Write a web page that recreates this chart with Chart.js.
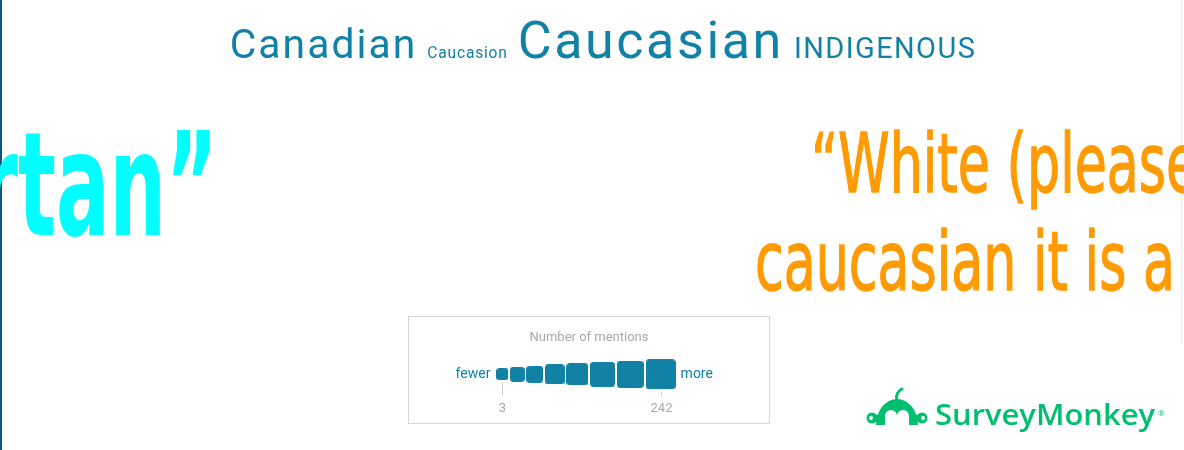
<!DOCTYPE html>
<html>
<head>
<meta charset="utf-8">
<script src="https://cdn.jsdelivr.net/npm/chart.js@4.4.0/dist/chart.umd.min.js"></script>
<style>
html, body { margin: 0; padding: 0; background: #fff; }
body { width: 1184px; height: 450px; position: relative; overflow: hidden; }
#left-bar { position: absolute; left: 0; top: 0; width: 2px; height: 450px; background: #0b5580; }
#right-line { position: absolute; left: 1181px; top: 0; width: 1px; height: 343px; background: #ececec; }
#cloud { position: absolute; left: 0; top: 0; }
#legend-box { position: absolute; left: 408px; top: 316px; width: 360px; height: 106px; border: 1px solid #d6d6d6; }
#legend { position: absolute; left: 0; top: 0; }
#overlay { position: absolute; left: 0; top: 0; }
</style>
</head>
<body>
<div id="left-bar"></div>
<div id="right-line"></div>
<canvas id="cloud" width="1184" height="116"></canvas>
<div id="legend-box"><canvas id="legend" width="360" height="106"></canvas></div>

<svg id="overlay" width="1184" height="450">
  <g id="cyan-quote" fill="#00ffff" font-family="'Liberation Sans Narrow', 'DejaVu Sans Condensed', 'DejaVu Sans', sans-serif" font-weight="bold" font-size="144">
    <text id="cyan-text" x="0" y="0">rtan”</text>
  </g>
  <g id="orange-1" fill="#ff9a00" stroke="#ff9a00" stroke-width="1.3" font-family="'Liberation Sans Narrow', 'DejaVu Sans Condensed', 'DejaVu Sans', sans-serif" font-size="82">
    <text id="orange-text-1" x="0" y="0">“White (please</text>
  </g>
  <g id="orange-2" fill="#ff9a00" stroke="#ff9a00" stroke-width="1.3" font-family="'Liberation Sans Narrow', 'DejaVu Sans Condensed', 'DejaVu Sans', sans-serif" font-size="82">
    <text id="orange-text-2" x="0" y="0">caucasian it is a</text>
  </g>

  <!-- SurveyMonkey logo -->
  <g fill="#00bf6f">
    <path d="M876,425 A21,26 0 0 1 918,425 Z"/>
    <circle cx="872" cy="418" r="5.5"/>
    <circle cx="922" cy="418" r="5.5"/>
    <rect x="872" y="415" width="8" height="6"/>
    <rect x="914" y="415" width="8" height="6"/>
    <path d="M897,400 Q895,393 902,389" stroke="#00bf6f" stroke-width="3" fill="none" stroke-linecap="round"/>
  </g>
  <g fill="#fff">
    <circle cx="891" cy="416" r="6"/>
    <circle cx="903" cy="416" r="6"/>
    <rect x="885" y="416" width="24" height="10"/>
    <circle cx="871" cy="418" r="2"/>
    <circle cx="923" cy="418" r="2"/>
  </g>
  <text x="935" y="425" fill="#00bf6f" font-family="'Open Sans', sans-serif" font-weight="600" font-size="28" textLength="220" lengthAdjust="spacingAndGlyphs">SurveyMonkey</text>
  <text x="1158" y="416" fill="#00bf6f" font-family="'Open Sans', sans-serif" font-size="8">®</text>
</svg>

<script>
// word cloud data
const words = ["Canadian", "Caucasion", "Caucasian", "INDIGENOUS"]
const mentions = [170, 7, 242, 93]

// legend data
const legendTitle = "Number of mentions"
const legendBins = [3, 37, 71, 105, 140, 174, 208, 242]
const legendEnds = ["fewer", "more"]

const minMentions = 3
const maxMentions = 242

const teal = "#1281a6"
const gray = "#a8a8a8"
const wordFont = "Roboto"

const fsMin = 15, fsMax = 52
const sideMin = 12, sideMax = 30
const wordGap = 10
const cloudCenter = 603

function scaleBetween(v, lo, hi){
    return lo + (v - minMentions) / (maxMentions - minMentions) * (hi - lo)
}

function fontSizeFor(m){ return scaleBetween(m, fsMin, fsMax) }
function sideFor(m){ return scaleBetween(m, sideMin, sideMax) }

// lay the words out in one row, measured with the same font as the chart
function layoutWords(){
    const ctx = document.createElement("canvas").getContext("2d")
    const widths = words.map((w, i) => {
        const fs = fontSizeFor(mentions[i])
        ctx.font = fs + "px " + wordFont
        ctx.letterSpacing = (fs * 0.05) + "px"
        return ctx.measureText(w).width
    })
    const total = widths.reduce((a, b) => a + b, 0) + wordGap * (words.length - 1)
    let x = cloudCenter - total / 2
    return widths.map(w => {
        const p = {x: x, y: 0}
        x += w + wordGap
        return p
    })
}

const wordTextPlugin = {
    id: "wordText",
    afterDatasetsDraw(chart){
        const ctx = chart.ctx
        const xs = chart.scales.x, ys = chart.scales.y
        ctx.save()
        ctx.fillStyle = teal
        ctx.textBaseline = "alphabetic"
        ctx.textAlign = "left"
        chart.data.datasets[0].data.forEach((p, i) => {
            const fs = fontSizeFor(mentions[i])
            ctx.font = fs + "px " + wordFont
            ctx.letterSpacing = (fs * 0.05) + "px"
            ctx.fillText(words[i], xs.getPixelForValue(p.x), ys.getPixelForValue(p.y))
        })
        ctx.restore()
    }
}

new Chart(document.getElementById("cloud"), {
    type: "scatter",
    data: { datasets: [{ data: layoutWords(), pointRadius: 0 }] },
    options: {
        responsive: false,
        animation: false,
        events: [],
        layout: { padding: 0, autoPadding: false },
        plugins: { legend: { display: false }, tooltip: { enabled: false } },
        scales: {
            x: { type: "linear", display: false, min: 0, max: 1184 },
            y: { type: "linear", display: false, min: -1, max: 1 }
        }
    },
    plugins: [wordTextPlugin]
})

// legend squares
const legendW = 360
const squareGap = 1.6
const legendShift = -3

function squareStyle(side){
    const c = document.createElement("canvas")
    const s = Math.round(side)
    c.width = s
    c.height = s
    const g = c.getContext("2d")
    g.fillStyle = teal
    g.beginPath()
    g.roundRect(0, 0, s, s, Math.min(3.5, s / 4))
    g.fill()
    return c
}

function legendPoints(){
    const sides = legendBins.map(sideFor)
    const total = sides.reduce((a, b) => a + b, 0) + squareGap * (sides.length - 1)
    let x = (legendW - total) / 2 + legendShift
    return sides.map(s => {
        const p = {x: x + s / 2, y: 0}
        x += s + squareGap
        return p
    })
}

const legendPlugin = {
    id: "legendMarks",
    afterDatasetsDraw(chart){
        const ctx = chart.ctx
        const xs = chart.scales.x, ys = chart.scales.y
        const pts = chart.data.datasets[0].data
        const yc = ys.getPixelForValue(0)
        const first = 0, last = pts.length - 1
        const bottom = chart.chartArea.bottom
        ctx.save()
        ctx.strokeStyle = "#cfcfcf"
        ctx.lineWidth = 1
        ctx.fillStyle = gray
        ctx.font = "13px " + wordFont
        ctx.textAlign = "center"
        ctx.textBaseline = "alphabetic"
        ;[first, last].forEach(i => {
            const x = Math.round(xs.getPixelForValue(pts[i].x)) + 0.5
            const side = sideFor(legendBins[i])
            ctx.beginPath()
            ctx.moveTo(x, yc + side / 2 + 2)
            ctx.lineTo(x, bottom - 1)
            ctx.stroke()
            ctx.fillText(String(legendBins[i]), x, bottom + 14.5)
        })
        ctx.fillStyle = teal
        ctx.font = "14px " + wordFont
        const s0 = sideFor(legendBins[first]), s1 = sideFor(legendBins[last])
        ctx.textAlign = "right"
        ctx.fillText(legendEnds[0], xs.getPixelForValue(pts[first].x) - s0 / 2 - 6, yc + 3.5)
        ctx.textAlign = "left"
        ctx.fillText(legendEnds[1], xs.getPixelForValue(pts[last].x) + s1 / 2 + 5, yc + 3.5)
        ctx.restore()
    }
}

new Chart(document.getElementById("legend"), {
    type: "scatter",
    data: {
        datasets: [{
            data: legendPoints(),
            pointStyle: legendBins.map(v => squareStyle(sideFor(v))),
            pointRadius: 10
        }]
    },
    options: {
        responsive: false,
        animation: false,
        events: [],
        layout: { padding: { left: 0, right: 0, top: 0, bottom: 26 }, autoPadding: false },
        plugins: {
            legend: { display: false },
            tooltip: { enabled: false },
            title: {
                display: true,
                text: legendTitle,
                color: gray,
                font: { family: wordFont, size: 13, weight: "normal" },
                padding: { top: 13, bottom: 6 }
            }
        },
        scales: {
            x: { type: "linear", display: false, min: 0, max: legendW },
            y: { type: "linear", display: false, min: -1, max: 1 }
        }
    },
    plugins: [legendPlugin]
})

// fit the quote overlays to the slide widths
function fitQuotes(){
    const $cyan = document.getElementById("cyan-text")
    const tanLen = $cyan.getSubStringLength(1, 4)
    const rLen = $cyan.getSubStringLength(0, 1)
    const sxC = 200 / tanLen
    document.getElementById("cyan-quote").setAttribute("transform",
        "translate(" + (18 - rLen * sxC) + ",235) scale(" + sxC + ",1)")

    const $o2 = document.getElementById("orange-text-2")
    const sxO = 420 / $o2.getComputedTextLength()
    document.getElementById("orange-2").setAttribute("transform",
        "translate(755,290) scale(" + sxO + ",1)")
    document.getElementById("orange-1").setAttribute("transform",
        "translate(811,192) scale(" + sxO + ",1)")
}

fitQuotes()
</script>
</body>
</html>
